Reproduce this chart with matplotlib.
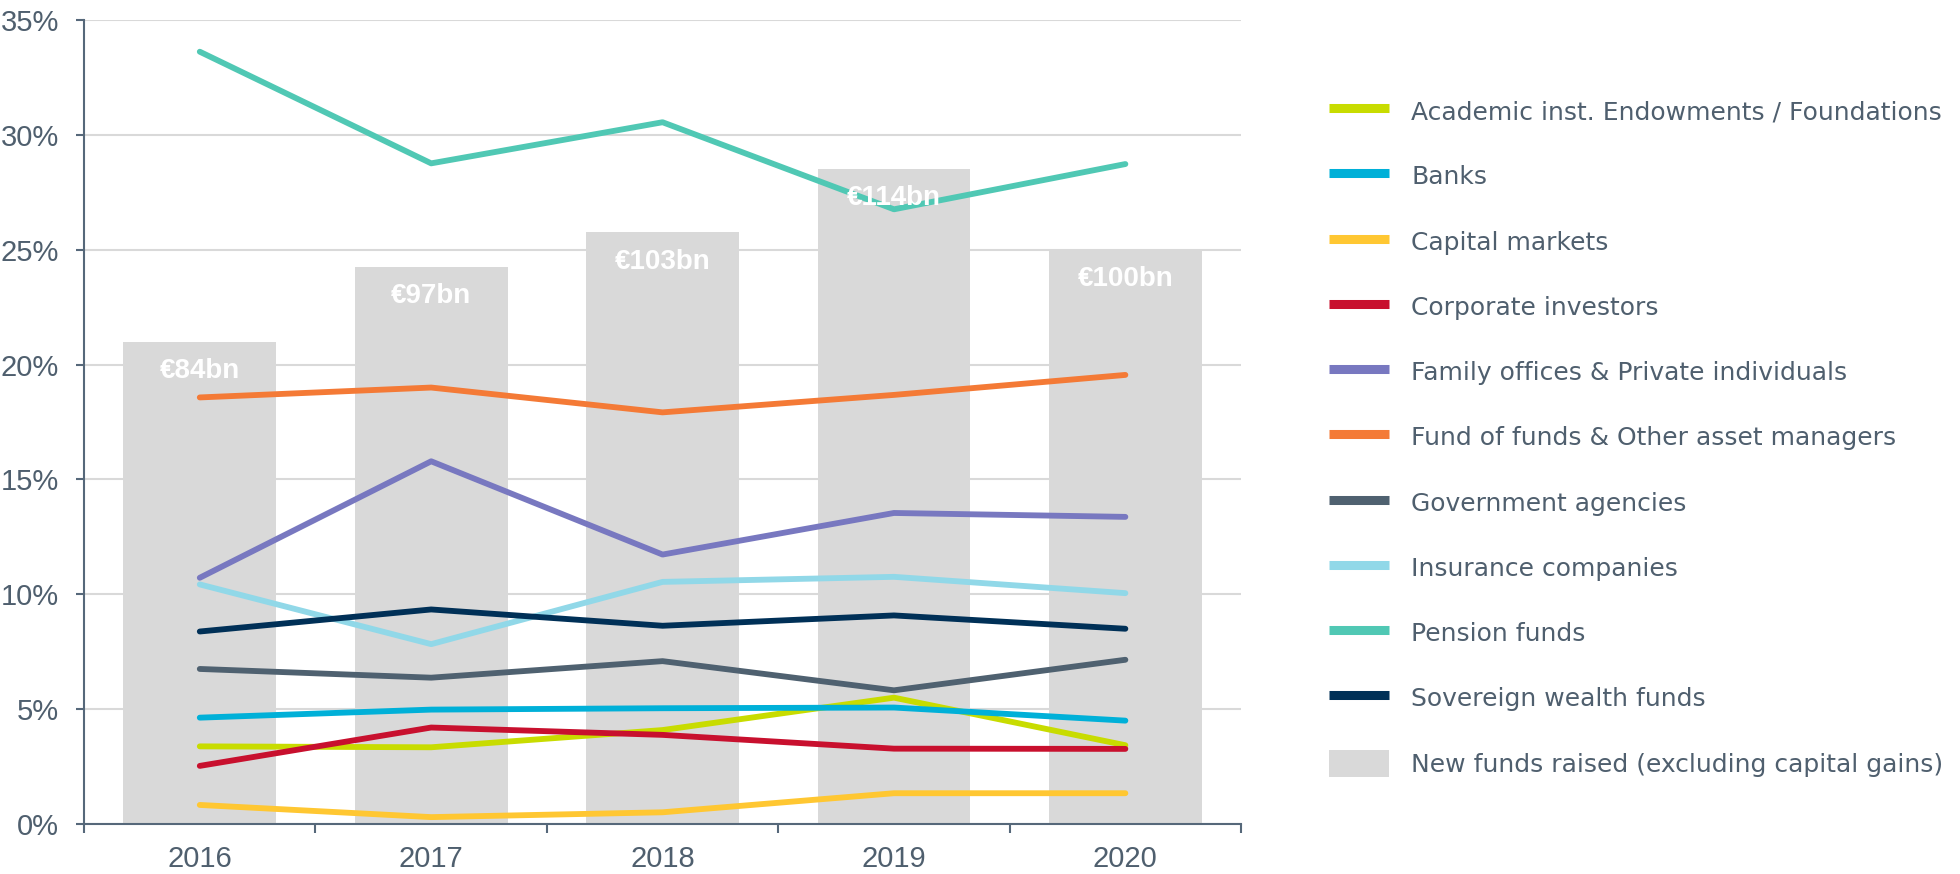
import matplotlib.pyplot as plt
from matplotlib.lines import Line2D
from matplotlib.patches import Patch
import numpy as np

# Andel av insamlat kapital per investerartyp (%)
years = ['2016', '2017', '2018', '2019', '2020']
funds_bn = [84, 97, 103, 114, 100]   # nya fonder (€bn)

academic = [3.38, 3.34, 4.09, 5.50, 3.43]
banks = [4.63, 4.98, 5.04, 5.07, 4.50]
capital_markets = [0.83, 0.30, 0.51, 1.34, 1.34]
corporate = [2.53, 4.20, 3.88, 3.28, 3.27]
family_offices = [10.72, 15.79, 11.73, 13.54, 13.37]
fund_of_funds = [18.57, 19.00, 17.92, 18.68, 19.55]
government = [6.75, 6.37, 7.09, 5.82, 7.15]
insurance = [10.43, 7.83, 10.54, 10.76, 10.05]
pension = [33.62, 28.76, 30.55, 26.76, 28.73]
sovereign = [8.38, 9.34, 8.63, 9.08, 8.50]

labels = ['Academic inst. Endowments / Foundations', 'Banks', 'Capital markets',
          'Corporate investors', 'Family offices & Private individuals',
          'Fund of funds & Other asset managers', 'Government agencies',
          'Insurance companies', 'Pension funds', 'Sovereign wealth funds']
series = [academic, banks, capital_markets, corporate, family_offices,
          fund_of_funds, government, insurance, pension, sovereign]
colors = ['#c8dc00', '#00b0d8', '#ffc732', '#c8102e', '#7878c0',
          '#f47a36', '#4f6170', '#91d8e8', '#50c8b4', '#003057']
bar_label = 'New funds raised (excluding capital gains)'

# staplarna ritas på procentaxeln: 4 €bn per procentenhet
bn_per_pct = 4

axis_col = '#56687a'
text_col = '#4f5f6e'
bar_col = '#d9d9d9'
tick_font = ['Liberation Sans Narrow', 'Liberation Sans']

fig = plt.figure(figsize=(19.6, 8.74), dpi=100)
ax = fig.add_axes([0.0429, 0.0572, 0.5903, 0.9199])

x = np.arange(len(years))
ax.set_axisbelow(True)
ax.yaxis.grid(True, color='#d9d9d9', lw=1.5)

heights = np.array(funds_bn) / bn_per_pct
ax.bar(x, heights, width=0.66, color=bar_col, zorder=1)

for xi, v, h in zip(x, funds_bn, heights):
    ax.annotate(f'€{v}bn', (xi, h), xytext=(0, -21), textcoords='offset points',
                ha='center', va='center', color='white', fontsize=20,
                fontweight='bold', family='Liberation Sans', zorder=5)

for vals, c in zip(series, colors):
    ax.plot(x, vals, color=c, lw=4.2, solid_capstyle='round', zorder=3)

ax.set_xlim(-0.5, 4.5)
ax.set_ylim(0, 35)

ax.set_xticks(x)
ax.set_xticklabels(years, family=tick_font, fontsize=21, color=text_col)
ax.tick_params(axis='x', which='major', length=0, pad=15)
ax.set_xticks(np.arange(-0.5, 5, 1), minor=True)
ax.tick_params(axis='x', which='minor', length=6.5, width=1.5, color=axis_col)

ax.set_yticks(range(0, 36, 5))
ax.set_yticklabels([f'{v}%' for v in range(0, 36, 5)], family=tick_font,
                   fontsize=21, color=text_col)
ax.tick_params(axis='y', length=6, width=1.5, pad=12, color=axis_col)

for s in ['top', 'right']:
    ax.spines[s].set_visible(False)
for s in ['left', 'bottom']:
    ax.spines[s].set_color(axis_col)
    ax.spines[s].set_linewidth(1.5)

handles = [Line2D([], [], color=c, lw=6.5, solid_capstyle='butt') for c in colors]
handles.append(Patch(facecolor=bar_col, edgecolor='none'))
leg = fig.legend(handles, labels + [bar_label], loc='upper left',
                 bbox_to_anchor=(0.678, 0.889), frameon=False,
                 prop={'family': 'DejaVu Sans', 'size': 18},
                 handlelength=2.4, handleheight=1.3, handletextpad=0.9,
                 labelspacing=1.52, borderpad=0, borderaxespad=0)
for t in leg.get_texts():
    t.set_color(text_col)

fig.savefig('out.png', dpi=100)
